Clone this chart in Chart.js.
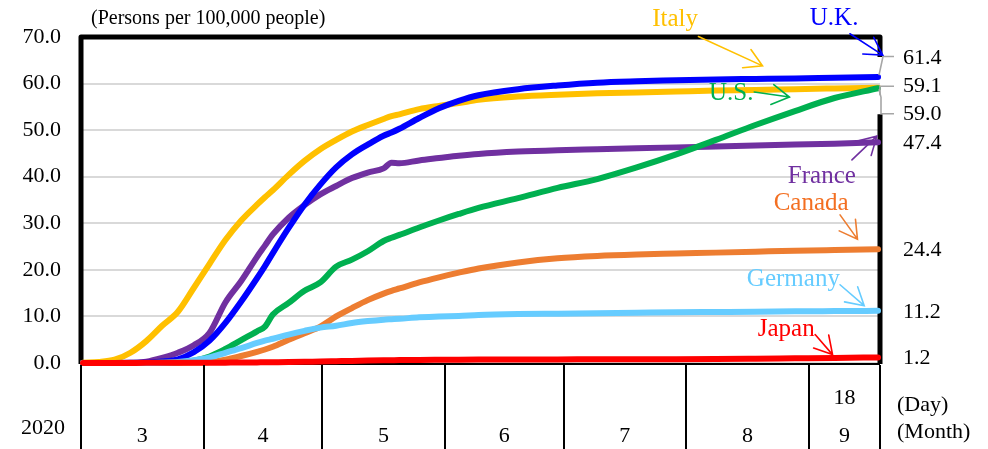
<!DOCTYPE html>
<html>
<head>
<meta charset="utf-8">
<script src="https://cdn.jsdelivr.net/npm/chart.js@4"></script>
<style>
  html, body { margin: 0; padding: 0; background: #fff; }
  #wrap { width: 988px; height: 449px; }
</style>
</head>
<body>
<div id="wrap"><canvas id="c" width="988" height="449"></canvas></div>
<script>
// Cumulative COVID-19 deaths per 100,000 people, 2020
const sampleDates = ['3/1','3/5','3/9','3/13','3/17','3/21','3/25','3/29','4/2','4/6','4/10','4/14','4/16','4/18',
  '4/22','4/26','4/30','5/4','5/8','5/12','5/16','5/18','5/20','5/25','5/30','6/4','6/9','6/19','6/29',
  '7/9','7/19','7/29','8/8','8/18','8/28','9/7','9/18'];

const italy   = [0.05,0.2,0.7,2.2,4.7,8.0,11.0,16.1,21.3,26.4,30.6,34.0,35.6,37.1,40.4,43.4,45.9,47.9,49.7,51.1,52.4,53.0,53.4,54.5,55.2,55.8,56.5,57.2,57.6,57.9,58.1,58.3,58.5,58.6,58.8,58.95,59.1];
const uk      = [0,0,0,0,0.1,0.3,0.8,2.3,4.8,8.6,13.2,18.2,20.8,23.6,29.0,34.0,38.3,42.0,44.8,46.9,48.8,49.5,50.3,52.6,54.7,56.3,57.5,58.8,59.6,60.2,60.5,60.7,60.9,61.0,61.1,61.25,61.4];
const us      = [0,0,0,0,0.01,0.03,0.1,0.5,1.4,3.0,4.9,6.8,7.8,10.4,12.9,15.5,17.3,20.7,22.2,24.0,26.2,26.9,27.5,29.1,30.6,32.0,33.3,35.4,37.6,39.5,42.0,44.8,47.9,51.1,54.1,56.9,59.0];
const france  = [0,0,0.02,0.1,0.3,1.1,2.2,3.8,6.5,13.0,17.6,22.8,25.2,27.6,31.2,33.9,36.2,38.0,39.7,40.9,41.8,43.0,42.9,43.5,44.0,44.5,44.9,45.4,45.7,45.9,46.1,46.3,46.5,46.7,46.9,47.1,47.4];
const canada  = [0,0,0,0,0,0.01,0.03,0.1,0.2,0.7,1.5,2.4,2.9,3.5,5.0,6.4,7.8,10.0,11.8,13.5,14.9,15.5,16.0,17.3,18.4,19.4,20.3,21.6,22.5,23.0,23.3,23.5,23.7,23.9,24.1,24.25,24.4];
const germany = [0,0,0,0,0,0.05,0.2,0.6,1.2,2.2,3.2,4.3,4.8,5.2,6.1,6.9,7.6,8.0,8.6,9.0,9.3,9.4,9.5,9.8,10.0,10.1,10.3,10.5,10.6,10.7,10.8,10.9,10.95,11.0,11.1,11.15,11.2];
const japan   = [0,0.01,0.01,0.02,0.03,0.03,0.04,0.05,0.06,0.08,0.1,0.13,0.14,0.16,0.2,0.26,0.33,0.39,0.45,0.52,0.58,0.6,0.62,0.66,0.69,0.72,0.74,0.76,0.77,0.79,0.8,0.82,0.86,0.93,1.01,1.09,1.2];

const monthNumbers = [3,4,5,6,7,8,9];
const lastDayLabel = '18';
const yearLabel = '2020';
const yTickValues = [0,10,20,30,40,50,60,70];

const SERIF = '"Liberation Serif", "Times New Roman", serif';

// day offsets from March 1st
const base = Date.UTC(2020, 2, 1);
const dayIndex = s => { const [m, d] = s.split('/').map(Number); return (Date.UTC(2020, m - 1, d) - base) / 86400000; };
const endDay = dayIndex('9/18') + 1;
const monthStarts = monthNumbers.map(m => dayIndex(m + '/1'));
const monthBounds = monthStarts.concat([endDay]);
const monthCenters = monthNumbers.map((m, i) => (monthBounds[i] + monthBounds[i + 1]) / 2);

const toPoints = arr => arr.map((v, i) => ({ x: dayIndex(sampleDates[i]) + 0.5, y: v }));
const last = arr => arr[arr.length - 1];

const series = [
  { name: 'Japan',   values: japan,   color: '#FF0000' },
  { name: 'Germany', values: germany, color: '#66CCFF' },
  { name: 'Canada',  values: canada,  color: '#ED7D31' },
  { name: 'U.S.',    values: us,      color: '#00B050' },
  { name: 'U.K.',    values: uk,      color: '#0000FF' },
  { name: 'France',  values: france,  color: '#7030A0' },
  { name: 'Italy',   values: italy,   color: '#FFC000' },
];

// callouts: label centre, arrow tail and arrow tip in (day, value) units
const callouts = [
  { text: 'Italy',   color: '#FFC000', label: [150.2, 73.8], tail: [156.1, 70.1], tip: [172.3, 63.8] },
  { text: 'U.K.',    color: '#0000FF', label: [190.4, 73.9], tail: [194.4, 70.7], tip: [202.7, 66.1] },
  { text: 'U.S.',    color: '#00B050', label: [164.4, 57.9], tail: [170.2, 58.2], tip: [179.1, 57.1] },
  { text: 'France',  color: '#7030A0', label: [187.3, 40.0], tail: [194.9, 43.6], tip: [201.2, 48.7] },
  { text: 'Canada',  color: '#ED7D31', textColor: '#F36F21', label: [184.6, 34.3], tail: [191.9, 31.8], tip: [196.3, 26.6] },
  { text: 'Germany', color: '#66CCFF', label: [180.1, 18.0], tail: [191.9, 16.8], tip: [198.0, 12.3] },
  { text: 'Japan',   color: '#FF0000', label: [178.3, 7.1],  tail: [185.6, 6.1],  tip: [190.0, 1.8] },
];

// end-value labels on the right; dy shifts a label away from its neighbours
const endLabels = [
  { values: uk,      dy: -18.5, leader: 'bend' },
  { values: italy,   dy: -1.5,  leader: 'flat' },
  { values: us,      dy: 25.5,  leader: 'up' },
  { values: france,  dy: 1,     leader: null },
  { values: canada,  dy: 0.5,   leader: null },
  { values: germany, dy: 1.2,   leader: null },
  { values: japan,   dy: 0.6,   leader: null },
];

const framePlugin = {
  id: 'frame',
  beforeDatasetsDraw(chart) {
    const { ctx, chartArea: a, scales: { y } } = chart;
    // the right edge opens where the leader lines of the crowded labels pass
    const gapTop = y.getPixelForValue(last(uk)) - 20;
    const gapBottom = y.getPixelForValue(last(us)) + 26;
    ctx.save();
    ctx.strokeStyle = '#000';
    ctx.lineJoin = 'round';
    ctx.lineWidth = 2;
    ctx.beginPath();
    ctx.moveTo(a.left, a.bottom + 1);
    ctx.lineTo(a.right, a.bottom + 1);
    ctx.stroke();
    ctx.lineWidth = 5;
    ctx.beginPath();
    ctx.moveTo(a.left, a.bottom + 1);
    ctx.lineTo(a.left, a.top);
    ctx.lineTo(a.right, a.top);
    ctx.lineTo(a.right, gapTop);
    ctx.moveTo(a.right, gapBottom);
    ctx.lineTo(a.right, a.bottom + 1);
    ctx.stroke();
    ctx.restore();
  },
  afterDraw(chart) {
    const { ctx, chartArea: a, scales: { x, y } } = chart;
    const H = chart.height;
    ctx.save();
    // month separators under the plot
    ctx.strokeStyle = '#000';
    ctx.lineWidth = 2;
    monthBounds.forEach(d => {
      const px = Math.round(x.getPixelForValue(d));
      ctx.beginPath();
      ctx.moveTo(px, a.bottom + 2);
      ctx.lineTo(px, H);
      ctx.stroke();
    });

    ctx.fillStyle = '#000';
    ctx.textBaseline = 'middle';
    ctx.textAlign = 'left';
    ctx.font = '20px ' + SERIF;
    ctx.fillText('(Persons per 100,000 people)', a.left + 10, 19);
    ctx.font = '22px ' + SERIF;
    ctx.fillText(yearLabel, a.left - 60, a.bottom + 65);
    ctx.fillText('(Day)', a.right + 17, a.bottom + 42);
    ctx.fillText('(Month)', a.right + 17, a.bottom + 69);

    // end values with leader lines
    endLabels.forEach(l => {
      const v = last(l.values);
      const ey = y.getPixelForValue(v);
      const ly = ey + l.dy;
      ctx.fillStyle = '#000';
      ctx.fillText(v.toFixed(1), a.right + 23, ly);
      if (!l.leader) return;
      ctx.strokeStyle = '#A6A6A6';
      ctx.lineWidth = 1.6;
      ctx.beginPath();
      if (l.leader === 'bend') {
        ctx.moveTo(a.right + 14, ly - 2);
        ctx.lineTo(a.right + 3, ly - 2);
        ctx.lineTo(a.right - 1, ey - 2);
      } else if (l.leader === 'flat') {
        ctx.moveTo(a.right + 14, ly);
        ctx.lineTo(a.right, ly);
        ctx.lineTo(a.right, ly + 9);
      } else {
        ctx.moveTo(a.right + 14, ly);
        ctx.lineTo(a.right + 1, ly);
        ctx.lineTo(a.right + 1, ey + 9);
        ctx.lineTo(a.right - 1, ey + 1);
      }
      ctx.stroke();
    });

    // country callouts with open arrowheads
    ctx.textAlign = 'center';
    ctx.font = '25px ' + SERIF;
    callouts.forEach(c => {
      const lx = x.getPixelForValue(c.label[0]), lyy = y.getPixelForValue(c.label[1]);
      ctx.fillStyle = c.textColor || c.color;
      ctx.fillText(c.text, lx, lyy);
      const tx = x.getPixelForValue(c.tail[0]), ty = y.getPixelForValue(c.tail[1]);
      const hx = x.getPixelForValue(c.tip[0]),  hy = y.getPixelForValue(c.tip[1]);
      const ang = Math.atan2(hy - ty, hx - tx);
      const len = 20, spread = Math.PI / 6;
      ctx.strokeStyle = c.color;
      ctx.lineWidth = 1.6;
      ctx.lineCap = 'round';
      ctx.beginPath();
      ctx.moveTo(tx, ty);
      ctx.lineTo(hx, hy);
      ctx.moveTo(hx - len * Math.cos(ang - spread), hy - len * Math.sin(ang - spread));
      ctx.lineTo(hx, hy);
      ctx.lineTo(hx - len * Math.cos(ang + spread), hy - len * Math.sin(ang + spread));
      ctx.stroke();
    });
    ctx.restore();
  }
};

new Chart(document.getElementById('c'), {
  type: 'line',
  data: {
    datasets: series.map((s, i) => ({
      label: s.name,
      data: toPoints(s.values),
      borderColor: s.color,
      backgroundColor: s.color,
      borderWidth: 6,
      borderCapStyle: 'round',
      borderJoinStyle: 'round',
      pointRadius: 0,
      cubicInterpolationMode: 'monotone',
      fill: false,
      clip: false,
      order: i,
    })),
  },
  options: {
    responsive: false,
    animation: false,
    devicePixelRatio: 1,
    layout: { padding: { top: 37, right: 108, left: 0, bottom: 0 } },
    plugins: { legend: { display: false }, tooltip: { enabled: false } },
    scales: {
      x: {
        type: 'linear',
        min: 0,
        max: endDay,
        grid: { display: false, drawTicks: false },
        border: { display: false },
        afterBuildTicks: scale => { scale.ticks = monthCenters.map(v => ({ value: v })); },
        afterFit: scale => { scale.height = 86; },
        ticks: {
          autoSkip: false,
          maxRotation: 0,
          minRotation: 0,
          padding: 15.5,
          color: '#000',
          font: { family: SERIF, size: 22, lineHeight: 1.76 },
          callback: (value, index) => index === monthNumbers.length - 1
            ? [lastDayLabel, String(monthNumbers[index])]
            : ['', String(monthNumbers[index])],
        },
      },
      y: {
        min: 0,
        max: 70,
        afterBuildTicks: scale => { scale.ticks = yTickValues.map(v => ({ value: v })); },
        afterFit: scale => { scale.width = 81; },
        grid: { color: '#D9D9D9', lineWidth: 2, drawTicks: false },
        border: { display: false },
        ticks: {
          padding: 20,
          color: '#000',
          font: { family: SERIF, size: 22 },
          callback: v => Number(v).toFixed(1),
        },
      },
    },
  },
  plugins: [framePlugin],
});
</script>
</body>
</html>
